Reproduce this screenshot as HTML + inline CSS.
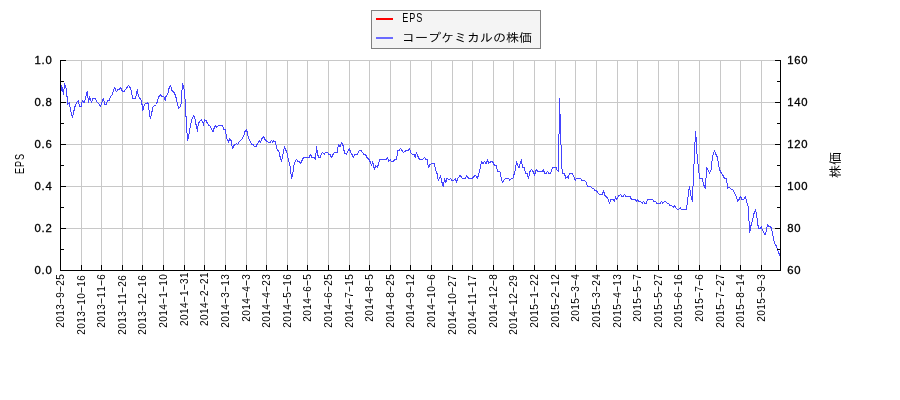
<!DOCTYPE html>
<html lang="ja"><head><meta charset="utf-8"><title>コープケミカルの株価 / EPS</title>
<style>html,body{margin:0;padding:0;background:#fff}body{width:900px;height:400px;overflow:hidden}svg{display:block}.j{font-family:"Liberation Sans","IPAGothic",sans-serif;fill:#000}.s{font-family:"Liberation Sans",sans-serif;fill:#000}.d{font-family:"Liberation Sans",sans-serif;font-size:11.3px;fill:#000}</style></head><body>
<svg width="900" height="400" viewBox="0 0 900 400">
<rect width="900" height="400" fill="#fff"/>
<g fill="#c8c8c8" shape-rendering="crispEdges">
<rect x="81" y="60" width="1" height="210"/>
<rect x="101" y="60" width="1" height="210"/>
<rect x="122" y="60" width="1" height="210"/>
<rect x="142" y="60" width="1" height="210"/>
<rect x="163" y="60" width="1" height="210"/>
<rect x="184" y="60" width="1" height="210"/>
<rect x="204" y="60" width="1" height="210"/>
<rect x="225" y="60" width="1" height="210"/>
<rect x="246" y="60" width="1" height="210"/>
<rect x="266" y="60" width="1" height="210"/>
<rect x="287" y="60" width="1" height="210"/>
<rect x="307" y="60" width="1" height="210"/>
<rect x="328" y="60" width="1" height="210"/>
<rect x="349" y="60" width="1" height="210"/>
<rect x="369" y="60" width="1" height="210"/>
<rect x="390" y="60" width="1" height="210"/>
<rect x="410" y="60" width="1" height="210"/>
<rect x="431" y="60" width="1" height="210"/>
<rect x="452" y="60" width="1" height="210"/>
<rect x="472" y="60" width="1" height="210"/>
<rect x="493" y="60" width="1" height="210"/>
<rect x="513" y="60" width="1" height="210"/>
<rect x="534" y="60" width="1" height="210"/>
<rect x="555" y="60" width="1" height="210"/>
<rect x="575" y="60" width="1" height="210"/>
<rect x="596" y="60" width="1" height="210"/>
<rect x="617" y="60" width="1" height="210"/>
<rect x="637" y="60" width="1" height="210"/>
<rect x="658" y="60" width="1" height="210"/>
<rect x="678" y="60" width="1" height="210"/>
<rect x="699" y="60" width="1" height="210"/>
<rect x="720" y="60" width="1" height="210"/>
<rect x="740" y="60" width="1" height="210"/>
<rect x="761" y="60" width="1" height="210"/>
<rect x="60" y="60" width="720" height="1"/>
<rect x="60" y="102" width="720" height="1"/>
<rect x="60" y="144" width="720" height="1"/>
<rect x="60" y="186" width="720" height="1"/>
<rect x="60" y="228" width="720" height="1"/>
</g>
<path d="M60.5,94.5 L61.8,85.5 L63.4,94.5 L64.7,83.5 L66.4,89.5 L67.2,98.5 L67.9,104.5 L69.3,102.5 L70.5,109.5 L72.4,117.5 L74.0,110.5 L75.5,104.5 L76.8,102.5 L78.2,100.5 L79.6,106.5 L81.1,106.5 L82.4,100.5 L84.0,102.5 L85.5,98.5 L87.2,91.5 L88.5,102.5 L89.7,96.5 L91.4,102.5 L92.7,98.5 L95.5,98.5 L97.3,102.5 L98.8,103.5 L100.4,106.5 L101.8,102.5 L103.4,98.5 L104.7,104.5 L106.2,104.5 L107.6,100.5 L109.1,100.5 L110.5,96.5 L112.2,94.5 L113.6,90.5 L114.6,87.5 L116.4,91.5 L117.9,89.5 L119.4,89.5 L120.6,87.5 L122.5,91.5 L124.0,91.5 L125.5,89.5 L127.0,87.5 L128.5,85.5 L130.0,87.5 L131.2,90.5 L132.6,98.5 L135.5,98.5 L137.3,89.5 L138.5,96.5 L140.0,98.5 L141.5,100.5 L142.8,110.5 L144.5,104.5 L146.0,103.5 L147.6,102.5 L148.5,104.5 L149.5,115.5 L150.5,118.5 L152.0,111.5 L153.2,106.5 L155.0,105.5 L156.5,104.5 L157.5,100.5 L159.0,96.5 L160.3,94.5 L162.0,96.5 L163.8,96.5 L165.3,100.5 L166.2,95.5 L167.7,94.5 L169.0,88.5 L170.5,85.5 L172.0,90.5 L174.0,92.5 L175.5,95.5 L176.5,99.5 L177.5,104.5 L178.8,108.5 L180.2,106.5 L181.2,103.5 L181.8,93.5 L182.5,83.5 L183.5,87.5 L184.2,89.5 L185.0,98.5 L185.5,105.5 L186.2,120.5 L186.8,130.5 L187.5,140.5 L189.0,134.5 L190.5,125.5 L191.8,119.5 L193.5,115.5 L194.7,117.5 L196.0,124.5 L197.5,131.5 L198.3,123.5 L199.8,121.5 L201.5,119.5 L202.8,122.5 L203.5,125.5 L204.5,119.5 L206.0,120.5 L207.5,123.5 L209.0,125.5 L210.5,126.5 L211.8,129.5 L213.0,131.5 L214.0,128.5 L215.5,125.5 L216.5,127.5 L218.5,125.5 L222.5,125.5 L224.0,129.5 L225.3,129.5 L226.2,135.5 L227.2,139.5 L228.5,142.5 L229.5,138.5 L231.0,140.5 L232.5,148.5 L234.0,145.5 L235.0,144.5 L236.5,143.5 L237.5,144.5 L239.5,141.5 L241.8,139.5 L243.5,136.5 L245.0,131.5 L246.5,129.5 L247.5,133.5 L248.2,137.5 L249.5,139.5 L251.5,144.5 L253.0,144.5 L254.5,146.5 L256.0,146.5 L257.5,143.5 L259.5,140.5 L260.5,142.5 L262.0,138.5 L263.5,136.5 L265.0,139.5 L266.0,140.5 L268.5,142.5 L270.0,142.5 L271.5,140.5 L272.8,142.5 L273.5,140.5 L275.0,141.5 L276.0,144.5 L276.5,148.5 L278.0,150.5 L279.2,152.5 L280.0,156.5 L281.5,161.5 L282.8,155.5 L284.5,146.5 L286.0,150.5 L287.5,154.5 L288.5,160.5 L290.0,165.5 L291.5,178.5 L293.0,172.5 L294.2,163.5 L295.5,160.5 L296.5,159.5 L298.0,161.5 L299.5,161.5 L300.5,163.5 L302.0,160.5 L303.5,157.5 L309.0,157.5 L310.5,154.5 L312.0,157.5 L314.0,157.5 L315.5,159.5 L316.0,153.5 L316.6,146.5 L317.5,153.5 L318.5,157.5 L320.0,157.5 L321.2,154.5 L322.5,152.5 L324.2,154.5 L325.5,152.5 L327.5,152.5 L329.0,154.5 L330.0,154.5 L331.5,157.5 L333.0,154.5 L334.5,152.5 L337.2,152.5 L337.8,148.5 L338.6,144.5 L340.0,146.5 L341.5,142.5 L343.0,145.5 L344.0,150.5 L345.0,153.5 L346.5,154.5 L347.5,151.5 L349.5,148.5 L350.5,152.5 L352.0,154.5 L353.5,157.5 L354.5,154.5 L357.5,154.5 L358.5,151.5 L359.8,150.5 L361.0,150.5 L362.5,152.5 L364.0,154.5 L365.5,154.5 L367.0,157.5 L369.0,159.5 L370.5,162.5 L371.8,165.5 L372.5,161.5 L373.5,165.5 L374.5,169.5 L375.5,165.5 L377.5,167.5 L378.5,163.5 L380.0,159.5 L383.0,159.5 L386.0,159.5 L387.5,157.5 L388.8,161.5 L390.2,159.5 L391.5,161.5 L393.5,161.5 L394.5,159.5 L396.5,159.5 L397.2,154.5 L397.8,150.5 L399.0,150.5 L400.5,148.5 L402.0,150.5 L403.5,152.5 L405.0,151.5 L406.2,150.5 L408.0,150.5 L409.5,148.5 L410.8,152.5 L412.2,154.5 L414.0,154.5 L415.2,157.5 L416.5,152.5 L418.0,156.5 L419.5,159.5 L422.5,159.5 L424.5,157.5 L426.0,159.5 L427.2,159.5 L428.5,167.5 L430.0,164.5 L431.5,163.5 L434.5,163.5 L435.5,169.5 L437.0,173.5 L438.2,180.5 L439.2,178.5 L440.5,175.5 L441.2,179.5 L442.0,182.5 L443.3,186.5 L444.5,178.5 L445.8,182.5 L447.0,178.5 L449.0,179.5 L450.5,178.5 L452.0,180.5 L453.5,180.5 L455.5,178.5 L456.5,182.5 L457.8,178.5 L459.8,175.5 L461.0,176.5 L462.5,178.5 L465.5,178.5 L466.8,175.5 L468.5,178.5 L472.2,178.5 L474.0,176.5 L475.2,175.5 L476.2,176.5 L477.5,178.5 L478.5,174.5 L480.0,169.5 L480.8,164.5 L481.5,161.5 L483.0,163.5 L484.5,161.5 L486.0,163.5 L487.5,159.5 L488.5,163.5 L490.0,162.5 L491.2,161.5 L492.5,161.5 L494.0,164.5 L495.0,165.5 L496.5,165.5 L497.5,171.5 L498.5,171.5 L499.8,171.5 L500.5,174.5 L501.5,179.5 L502.5,182.5 L503.8,180.5 L505.5,178.5 L508.5,178.5 L509.8,180.5 L511.2,178.5 L512.8,178.5 L514.0,174.5 L515.3,170.5 L516.5,161.5 L517.5,165.5 L519.0,167.5 L520.5,162.5 L521.5,159.5 L522.5,167.5 L524.5,167.5 L525.5,173.5 L527.0,173.5 L528.5,178.5 L530.0,171.5 L531.5,169.5 L533.0,171.5 L534.5,175.5 L535.5,171.5 L536.5,169.5 L538.0,171.5 L542.0,171.5 L543.5,169.5 L544.5,173.5 L546.0,173.5 L547.5,171.5 L549.0,173.5 L550.5,173.5 L551.8,169.5 L553.0,167.5 L556.0,167.5 L557.2,170.5 L558.5,171.5 L559.5,98.5 L561.7,166.5 L562.0,168.5 L562.8,173.5 L564.5,173.5 L565.8,178.5 L567.2,176.5 L568.2,178.5 L569.5,173.5 L572.5,173.5 L573.8,176.5 L575.2,180.5 L576.5,178.5 L580.5,178.5 L581.8,180.5 L584.8,180.5 L586.2,182.5 L587.5,186.5 L590.5,186.5 L592.2,188.5 L593.5,188.5 L594.8,190.5 L596.2,190.5 L597.8,192.5 L599.2,194.5 L602.2,194.5 L603.5,190.5 L604.8,195.5 L606.2,196.5 L607.8,198.5 L609.5,203.5 L611.0,199.5 L613.0,199.5 L614.5,201.5 L615.5,196.5 L616.8,199.5 L617.8,197.5 L619.0,195.5 L620.5,194.5 L621.8,196.5 L623.0,196.5 L624.5,194.5 L625.8,196.5 L630.0,196.5 L631.5,199.5 L635.0,199.5 L636.5,201.5 L637.5,199.5 L639.0,201.5 L640.5,201.5 L642.2,203.5 L643.5,201.5 L645.0,203.5 L646.2,203.5 L647.5,199.5 L652.5,199.5 L654.0,201.5 L655.5,201.5 L656.8,203.5 L660.0,203.5 L661.5,201.5 L662.8,203.5 L664.5,201.5 L665.8,201.5 L667.2,203.5 L668.5,203.5 L670.0,205.5 L671.5,205.5 L673.5,207.5 L674.5,205.5 L675.8,207.5 L677.2,209.5 L678.5,209.5 L680.2,207.5 L681.5,209.5 L686.5,209.5 L687.0,205.5 L687.8,198.5 L688.8,190.5 L689.5,186.5 L690.5,193.5 L691.5,198.5 L692.5,201.5 L692.9,188.5 L693.5,176.5 L694.0,164.5 L694.5,153.5 L695.0,142.5 L695.5,131.5 L696.3,139.5 L696.8,152.5 L697.8,161.5 L698.5,168.5 L699.2,174.5 L699.8,178.5 L702.0,178.5 L702.8,180.5 L703.5,184.5 L705.5,188.5 L706.0,178.5 L706.3,167.5 L707.5,168.5 L709.5,173.5 L710.5,170.5 L711.5,169.5 L711.8,163.5 L712.5,156.5 L713.5,153.5 L714.5,150.5 L716.0,154.5 L717.5,157.5 L718.2,162.5 L718.8,166.5 L720.0,170.5 L721.5,173.5 L723.0,175.5 L724.5,178.5 L726.2,178.5 L727.0,182.5 L727.6,188.5 L729.0,187.5 L730.5,188.5 L732.0,189.5 L733.5,190.5 L734.5,193.5 L735.8,195.5 L736.8,197.5 L737.5,201.5 L739.0,199.5 L740.5,196.5 L742.0,199.5 L743.5,199.5 L745.0,197.5 L745.5,196.5 L746.2,199.5 L747.2,203.5 L748.5,207.5 L748.8,215.5 L749.2,225.5 L749.6,232.5 L750.5,228.5 L751.2,224.5 L752.5,220.5 L754.0,213.5 L755.5,209.5 L756.5,214.5 L757.5,221.5 L758.0,225.5 L758.8,228.5 L760.0,228.5 L761.2,226.5 L762.5,230.5 L763.8,232.5 L765.0,234.5 L766.0,232.5 L766.8,228.5 L767.5,224.5 L769.0,226.5 L770.5,226.5 L771.5,228.5 L772.5,233.5 L773.5,238.5 L774.5,243.5 L776.0,245.5 L777.5,249.5 L779.0,253.5 L780.0,255.5" fill="none" stroke="#4444ff" stroke-width="1" stroke-linejoin="bevel" shape-rendering="crispEdges"/>
<g fill="#000" shape-rendering="crispEdges">
<rect x="60" y="60" width="1" height="211"/>
<rect x="780" y="60" width="1" height="211"/>
<rect x="60" y="270" width="721" height="1"/>
<rect x="60" y="265" width="1" height="5"/>
<rect x="81" y="265" width="1" height="5"/>
<rect x="101" y="265" width="1" height="5"/>
<rect x="122" y="265" width="1" height="5"/>
<rect x="142" y="265" width="1" height="5"/>
<rect x="163" y="265" width="1" height="5"/>
<rect x="184" y="265" width="1" height="5"/>
<rect x="204" y="265" width="1" height="5"/>
<rect x="225" y="265" width="1" height="5"/>
<rect x="246" y="265" width="1" height="5"/>
<rect x="266" y="265" width="1" height="5"/>
<rect x="287" y="265" width="1" height="5"/>
<rect x="307" y="265" width="1" height="5"/>
<rect x="328" y="265" width="1" height="5"/>
<rect x="349" y="265" width="1" height="5"/>
<rect x="369" y="265" width="1" height="5"/>
<rect x="390" y="265" width="1" height="5"/>
<rect x="410" y="265" width="1" height="5"/>
<rect x="431" y="265" width="1" height="5"/>
<rect x="452" y="265" width="1" height="5"/>
<rect x="472" y="265" width="1" height="5"/>
<rect x="493" y="265" width="1" height="5"/>
<rect x="513" y="265" width="1" height="5"/>
<rect x="534" y="265" width="1" height="5"/>
<rect x="555" y="265" width="1" height="5"/>
<rect x="575" y="265" width="1" height="5"/>
<rect x="596" y="265" width="1" height="5"/>
<rect x="617" y="265" width="1" height="5"/>
<rect x="637" y="265" width="1" height="5"/>
<rect x="658" y="265" width="1" height="5"/>
<rect x="678" y="265" width="1" height="5"/>
<rect x="699" y="265" width="1" height="5"/>
<rect x="720" y="265" width="1" height="5"/>
<rect x="740" y="265" width="1" height="5"/>
<rect x="761" y="265" width="1" height="5"/>
<rect x="60" y="60" width="6" height="1"/>
<rect x="775" y="60" width="6" height="1"/>
<rect x="60" y="81" width="4" height="1"/>
<rect x="777" y="81" width="4" height="1"/>
<rect x="60" y="102" width="6" height="1"/>
<rect x="775" y="102" width="6" height="1"/>
<rect x="60" y="123" width="4" height="1"/>
<rect x="777" y="123" width="4" height="1"/>
<rect x="60" y="144" width="6" height="1"/>
<rect x="775" y="144" width="6" height="1"/>
<rect x="60" y="165" width="4" height="1"/>
<rect x="777" y="165" width="4" height="1"/>
<rect x="60" y="186" width="6" height="1"/>
<rect x="775" y="186" width="6" height="1"/>
<rect x="60" y="207" width="4" height="1"/>
<rect x="777" y="207" width="4" height="1"/>
<rect x="60" y="228" width="6" height="1"/>
<rect x="775" y="228" width="6" height="1"/>
<rect x="60" y="249" width="4" height="1"/>
<rect x="777" y="249" width="4" height="1"/>
<rect x="60" y="270" width="6" height="1"/>
<rect x="775" y="270" width="6" height="1"/>
</g>
<g class="d" letter-spacing="0.7" stroke="#000" stroke-width="0.3">
<text x="52.4" y="63.6" text-anchor="end">1.0</text>
<text x="52.4" y="105.6" text-anchor="end">0.8</text>
<text x="52.4" y="147.6" text-anchor="end">0.6</text>
<text x="52.4" y="189.6" text-anchor="end">0.4</text>
<text x="52.4" y="231.6" text-anchor="end">0.2</text>
<text x="52.4" y="273.6" text-anchor="end">0.0</text>
<text x="787.2" y="63.6">160</text>
<text x="787.2" y="105.6">140</text>
<text x="787.2" y="147.6">120</text>
<text x="787.2" y="189.6">100</text>
<text x="787.2" y="231.6">80</text>
<text x="787.2" y="273.6">60</text>
</g>
<g class="s" font-size="10">
<text transform="translate(64.00,274) rotate(-90) scale(1,1.1)" x="-53.78 -47.78 -41.78 -35.78 -30.28 -23.78 -18.28 -11.78 -5.78" dy="0 0 0 0 -0.9 0.9 -0.9 0.9 0">2013<tspan textLength="6.56" lengthAdjust="spacingAndGlyphs">-</tspan>9<tspan textLength="6.56" lengthAdjust="spacingAndGlyphs">-</tspan>25</text>
<text transform="translate(85.00,275) rotate(-90) scale(1,1.1)" x="-59.78 -53.78 -47.78 -41.78 -36.28 -29.78 -23.78 -18.28 -11.78 -5.78" dy="0 0 0 0 -0.9 0.9 0 -0.9 0.9 0">2013<tspan textLength="6.56" lengthAdjust="spacingAndGlyphs">-</tspan>10<tspan textLength="6.56" lengthAdjust="spacingAndGlyphs">-</tspan>16</text>
<text transform="translate(105.00,274) rotate(-90) scale(1,1.1)" x="-53.78 -47.78 -41.78 -35.78 -30.28 -23.78 -17.78 -12.28 -5.78" dy="0 0 0 0 -0.9 0.9 0 -0.9 0.9">2013<tspan textLength="6.56" lengthAdjust="spacingAndGlyphs">-</tspan>11<tspan textLength="6.56" lengthAdjust="spacingAndGlyphs">-</tspan>6</text>
<text transform="translate(126.00,275) rotate(-90) scale(1,1.1)" x="-59.78 -53.78 -47.78 -41.78 -36.28 -29.78 -23.78 -18.28 -11.78 -5.78" dy="0 0 0 0 -0.9 0.9 0 -0.9 0.9 0">2013<tspan textLength="6.56" lengthAdjust="spacingAndGlyphs">-</tspan>11<tspan textLength="6.56" lengthAdjust="spacingAndGlyphs">-</tspan>26</text>
<text transform="translate(146.00,275) rotate(-90) scale(1,1.1)" x="-59.78 -53.78 -47.78 -41.78 -36.28 -29.78 -23.78 -18.28 -11.78 -5.78" dy="0 0 0 0 -0.9 0.9 0 -0.9 0.9 0">2013<tspan textLength="6.56" lengthAdjust="spacingAndGlyphs">-</tspan>12<tspan textLength="6.56" lengthAdjust="spacingAndGlyphs">-</tspan>16</text>
<text transform="translate(167.00,274) rotate(-90) scale(1,1.1)" x="-53.78 -47.78 -41.78 -35.78 -30.28 -23.78 -18.28 -11.78 -5.78" dy="0 0 0 0 -0.9 0.9 -0.9 0.9 0">2014<tspan textLength="6.56" lengthAdjust="spacingAndGlyphs">-</tspan>1<tspan textLength="6.56" lengthAdjust="spacingAndGlyphs">-</tspan>10</text>
<text transform="translate(188.00,272.3) rotate(-90) scale(1,1.1)" x="-53.78 -47.78 -41.78 -35.78 -30.28 -23.78 -18.28 -11.78 -5.78" dy="0 0 0 0 -0.9 0.9 -0.9 0.9 0">2014<tspan textLength="6.56" lengthAdjust="spacingAndGlyphs">-</tspan>1<tspan textLength="6.56" lengthAdjust="spacingAndGlyphs">-</tspan>31</text>
<text transform="translate(208.00,272.3) rotate(-90) scale(1,1.1)" x="-53.78 -47.78 -41.78 -35.78 -30.28 -23.78 -18.28 -11.78 -5.78" dy="0 0 0 0 -0.9 0.9 -0.9 0.9 0">2014<tspan textLength="6.56" lengthAdjust="spacingAndGlyphs">-</tspan>2<tspan textLength="6.56" lengthAdjust="spacingAndGlyphs">-</tspan>21</text>
<text transform="translate(229.00,274) rotate(-90) scale(1,1.1)" x="-53.78 -47.78 -41.78 -35.78 -30.28 -23.78 -18.28 -11.78 -5.78" dy="0 0 0 0 -0.9 0.9 -0.9 0.9 0">2014<tspan textLength="6.56" lengthAdjust="spacingAndGlyphs">-</tspan>3<tspan textLength="6.56" lengthAdjust="spacingAndGlyphs">-</tspan>13</text>
<text transform="translate(250.00,274) rotate(-90) scale(1,1.1)" x="-47.78 -41.78 -35.78 -29.78 -24.28 -17.78 -12.28 -5.78" dy="0 0 0 0 -0.9 0.9 -0.9 0.9">2014<tspan textLength="6.56" lengthAdjust="spacingAndGlyphs">-</tspan>4<tspan textLength="6.56" lengthAdjust="spacingAndGlyphs">-</tspan>3</text>
<text transform="translate(270.00,274) rotate(-90) scale(1,1.1)" x="-53.78 -47.78 -41.78 -35.78 -30.28 -23.78 -18.28 -11.78 -5.78" dy="0 0 0 0 -0.9 0.9 -0.9 0.9 0">2014<tspan textLength="6.56" lengthAdjust="spacingAndGlyphs">-</tspan>4<tspan textLength="6.56" lengthAdjust="spacingAndGlyphs">-</tspan>23</text>
<text transform="translate(291.00,274) rotate(-90) scale(1,1.1)" x="-53.78 -47.78 -41.78 -35.78 -30.28 -23.78 -18.28 -11.78 -5.78" dy="0 0 0 0 -0.9 0.9 -0.9 0.9 0">2014<tspan textLength="6.56" lengthAdjust="spacingAndGlyphs">-</tspan>5<tspan textLength="6.56" lengthAdjust="spacingAndGlyphs">-</tspan>16</text>
<text transform="translate(311.00,274) rotate(-90) scale(1,1.1)" x="-47.78 -41.78 -35.78 -29.78 -24.28 -17.78 -12.28 -5.78" dy="0 0 0 0 -0.9 0.9 -0.9 0.9">2014<tspan textLength="6.56" lengthAdjust="spacingAndGlyphs">-</tspan>6<tspan textLength="6.56" lengthAdjust="spacingAndGlyphs">-</tspan>5</text>
<text transform="translate(332.00,274) rotate(-90) scale(1,1.1)" x="-53.78 -47.78 -41.78 -35.78 -30.28 -23.78 -18.28 -11.78 -5.78" dy="0 0 0 0 -0.9 0.9 -0.9 0.9 0">2014<tspan textLength="6.56" lengthAdjust="spacingAndGlyphs">-</tspan>6<tspan textLength="6.56" lengthAdjust="spacingAndGlyphs">-</tspan>25</text>
<text transform="translate(353.00,274) rotate(-90) scale(1,1.1)" x="-53.78 -47.78 -41.78 -35.78 -30.28 -23.78 -18.28 -11.78 -5.78" dy="0 0 0 0 -0.9 0.9 -0.9 0.9 0">2014<tspan textLength="6.56" lengthAdjust="spacingAndGlyphs">-</tspan>7<tspan textLength="6.56" lengthAdjust="spacingAndGlyphs">-</tspan>15</text>
<text transform="translate(373.00,274) rotate(-90) scale(1,1.1)" x="-47.78 -41.78 -35.78 -29.78 -24.28 -17.78 -12.28 -5.78" dy="0 0 0 0 -0.9 0.9 -0.9 0.9">2014<tspan textLength="6.56" lengthAdjust="spacingAndGlyphs">-</tspan>8<tspan textLength="6.56" lengthAdjust="spacingAndGlyphs">-</tspan>5</text>
<text transform="translate(394.00,274) rotate(-90) scale(1,1.1)" x="-53.78 -47.78 -41.78 -35.78 -30.28 -23.78 -18.28 -11.78 -5.78" dy="0 0 0 0 -0.9 0.9 -0.9 0.9 0">2014<tspan textLength="6.56" lengthAdjust="spacingAndGlyphs">-</tspan>8<tspan textLength="6.56" lengthAdjust="spacingAndGlyphs">-</tspan>25</text>
<text transform="translate(414.00,274) rotate(-90) scale(1,1.1)" x="-53.78 -47.78 -41.78 -35.78 -30.28 -23.78 -18.28 -11.78 -5.78" dy="0 0 0 0 -0.9 0.9 -0.9 0.9 0">2014<tspan textLength="6.56" lengthAdjust="spacingAndGlyphs">-</tspan>9<tspan textLength="6.56" lengthAdjust="spacingAndGlyphs">-</tspan>12</text>
<text transform="translate(435.00,274) rotate(-90) scale(1,1.1)" x="-53.78 -47.78 -41.78 -35.78 -30.28 -23.78 -17.78 -12.28 -5.78" dy="0 0 0 0 -0.9 0.9 0 -0.9 0.9">2014<tspan textLength="6.56" lengthAdjust="spacingAndGlyphs">-</tspan>10<tspan textLength="6.56" lengthAdjust="spacingAndGlyphs">-</tspan>6</text>
<text transform="translate(456.00,275) rotate(-90) scale(1,1.1)" x="-59.78 -53.78 -47.78 -41.78 -36.28 -29.78 -23.78 -18.28 -11.78 -5.78" dy="0 0 0 0 -0.9 0.9 0 -0.9 0.9 0">2014<tspan textLength="6.56" lengthAdjust="spacingAndGlyphs">-</tspan>10<tspan textLength="6.56" lengthAdjust="spacingAndGlyphs">-</tspan>27</text>
<text transform="translate(476.00,275) rotate(-90) scale(1,1.1)" x="-59.78 -53.78 -47.78 -41.78 -36.28 -29.78 -23.78 -18.28 -11.78 -5.78" dy="0 0 0 0 -0.9 0.9 0 -0.9 0.9 0">2014<tspan textLength="6.56" lengthAdjust="spacingAndGlyphs">-</tspan>11<tspan textLength="6.56" lengthAdjust="spacingAndGlyphs">-</tspan>17</text>
<text transform="translate(497.00,274) rotate(-90) scale(1,1.1)" x="-53.78 -47.78 -41.78 -35.78 -30.28 -23.78 -17.78 -12.28 -5.78" dy="0 0 0 0 -0.9 0.9 0 -0.9 0.9">2014<tspan textLength="6.56" lengthAdjust="spacingAndGlyphs">-</tspan>12<tspan textLength="6.56" lengthAdjust="spacingAndGlyphs">-</tspan>8</text>
<text transform="translate(517.00,275) rotate(-90) scale(1,1.1)" x="-59.78 -53.78 -47.78 -41.78 -36.28 -29.78 -23.78 -18.28 -11.78 -5.78" dy="0 0 0 0 -0.9 0.9 0 -0.9 0.9 0">2014<tspan textLength="6.56" lengthAdjust="spacingAndGlyphs">-</tspan>12<tspan textLength="6.56" lengthAdjust="spacingAndGlyphs">-</tspan>29</text>
<text transform="translate(538.00,274) rotate(-90) scale(1,1.1)" x="-53.78 -47.78 -41.78 -35.78 -30.28 -23.78 -18.28 -11.78 -5.78" dy="0 0 0 0 -0.9 0.9 -0.9 0.9 0">2015<tspan textLength="6.56" lengthAdjust="spacingAndGlyphs">-</tspan>1<tspan textLength="6.56" lengthAdjust="spacingAndGlyphs">-</tspan>22</text>
<text transform="translate(559.00,274) rotate(-90) scale(1,1.1)" x="-53.78 -47.78 -41.78 -35.78 -30.28 -23.78 -18.28 -11.78 -5.78" dy="0 0 0 0 -0.9 0.9 -0.9 0.9 0">2015<tspan textLength="6.56" lengthAdjust="spacingAndGlyphs">-</tspan>2<tspan textLength="6.56" lengthAdjust="spacingAndGlyphs">-</tspan>12</text>
<text transform="translate(579.00,274) rotate(-90) scale(1,1.1)" x="-47.78 -41.78 -35.78 -29.78 -24.28 -17.78 -12.28 -5.78" dy="0 0 0 0 -0.9 0.9 -0.9 0.9">2015<tspan textLength="6.56" lengthAdjust="spacingAndGlyphs">-</tspan>3<tspan textLength="6.56" lengthAdjust="spacingAndGlyphs">-</tspan>4</text>
<text transform="translate(600.00,274) rotate(-90) scale(1,1.1)" x="-53.78 -47.78 -41.78 -35.78 -30.28 -23.78 -18.28 -11.78 -5.78" dy="0 0 0 0 -0.9 0.9 -0.9 0.9 0">2015<tspan textLength="6.56" lengthAdjust="spacingAndGlyphs">-</tspan>3<tspan textLength="6.56" lengthAdjust="spacingAndGlyphs">-</tspan>24</text>
<text transform="translate(621.00,274) rotate(-90) scale(1,1.1)" x="-53.78 -47.78 -41.78 -35.78 -30.28 -23.78 -18.28 -11.78 -5.78" dy="0 0 0 0 -0.9 0.9 -0.9 0.9 0">2015<tspan textLength="6.56" lengthAdjust="spacingAndGlyphs">-</tspan>4<tspan textLength="6.56" lengthAdjust="spacingAndGlyphs">-</tspan>13</text>
<text transform="translate(641.00,274) rotate(-90) scale(1,1.1)" x="-47.78 -41.78 -35.78 -29.78 -24.28 -17.78 -12.28 -5.78" dy="0 0 0 0 -0.9 0.9 -0.9 0.9">2015<tspan textLength="6.56" lengthAdjust="spacingAndGlyphs">-</tspan>5<tspan textLength="6.56" lengthAdjust="spacingAndGlyphs">-</tspan>7</text>
<text transform="translate(662.00,274) rotate(-90) scale(1,1.1)" x="-53.78 -47.78 -41.78 -35.78 -30.28 -23.78 -18.28 -11.78 -5.78" dy="0 0 0 0 -0.9 0.9 -0.9 0.9 0">2015<tspan textLength="6.56" lengthAdjust="spacingAndGlyphs">-</tspan>5<tspan textLength="6.56" lengthAdjust="spacingAndGlyphs">-</tspan>27</text>
<text transform="translate(682.00,274) rotate(-90) scale(1,1.1)" x="-53.78 -47.78 -41.78 -35.78 -30.28 -23.78 -18.28 -11.78 -5.78" dy="0 0 0 0 -0.9 0.9 -0.9 0.9 0">2015<tspan textLength="6.56" lengthAdjust="spacingAndGlyphs">-</tspan>6<tspan textLength="6.56" lengthAdjust="spacingAndGlyphs">-</tspan>16</text>
<text transform="translate(703.00,274) rotate(-90) scale(1,1.1)" x="-47.78 -41.78 -35.78 -29.78 -24.28 -17.78 -12.28 -5.78" dy="0 0 0 0 -0.9 0.9 -0.9 0.9">2015<tspan textLength="6.56" lengthAdjust="spacingAndGlyphs">-</tspan>7<tspan textLength="6.56" lengthAdjust="spacingAndGlyphs">-</tspan>6</text>
<text transform="translate(724.00,274) rotate(-90) scale(1,1.1)" x="-53.78 -47.78 -41.78 -35.78 -30.28 -23.78 -18.28 -11.78 -5.78" dy="0 0 0 0 -0.9 0.9 -0.9 0.9 0">2015<tspan textLength="6.56" lengthAdjust="spacingAndGlyphs">-</tspan>7<tspan textLength="6.56" lengthAdjust="spacingAndGlyphs">-</tspan>27</text>
<text transform="translate(744.00,274) rotate(-90) scale(1,1.1)" x="-53.78 -47.78 -41.78 -35.78 -30.28 -23.78 -18.28 -11.78 -5.78" dy="0 0 0 0 -0.9 0.9 -0.9 0.9 0">2015<tspan textLength="6.56" lengthAdjust="spacingAndGlyphs">-</tspan>8<tspan textLength="6.56" lengthAdjust="spacingAndGlyphs">-</tspan>14</text>
<text transform="translate(765.00,274) rotate(-90) scale(1,1.1)" x="-47.78 -41.78 -35.78 -29.78 -24.28 -17.78 -12.28 -5.78" dy="0 0 0 0 -0.9 0.9 -0.9 0.9">2015<tspan textLength="6.56" lengthAdjust="spacingAndGlyphs">-</tspan>9<tspan textLength="6.56" lengthAdjust="spacingAndGlyphs">-</tspan>3</text>
</g>
<text class="s" font-size="13" transform="translate(24,163.7) rotate(-90) scale(0.7,1)" x="-14.79 -4.79 5.21">EPS</text>
<text class="j" font-size="13" transform="translate(840,165) rotate(-90)" text-anchor="middle">株価</text>
<rect x="371.5" y="10.5" width="169" height="38" fill="#f4f4f4" stroke="#808080" stroke-width="1"/>
<rect x="376" y="18" width="17" height="2" fill="#ff0000"/>
<rect x="376" y="37" width="17" height="2" fill="#6a6aff"/>
<text class="s" font-size="13" transform="translate(402,22) scale(0.7,1)" x="0.21 10.21 20.21">EPS</text>
<text class="j" font-size="13" transform="translate(402,42) scale(1,0.925)">コープケミカルの株価</text>
</svg></body></html>
